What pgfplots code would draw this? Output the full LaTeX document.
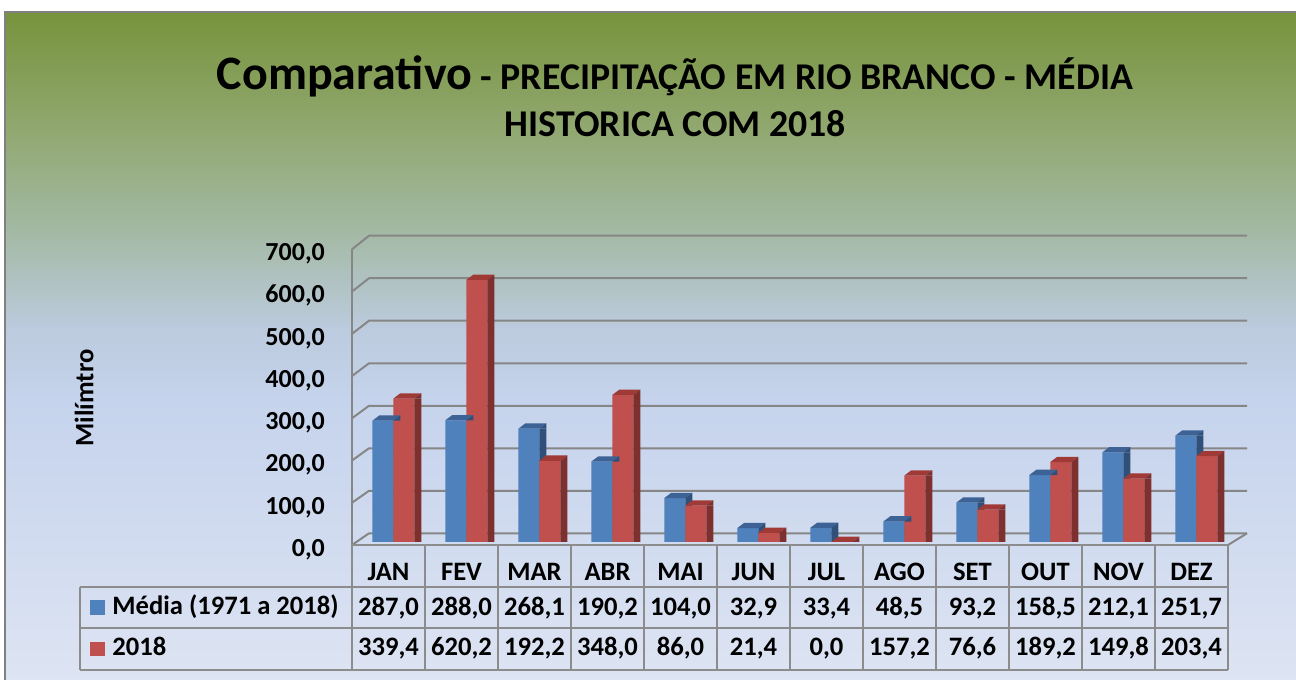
\documentclass[border=0pt]{standalone}
\usepackage{pgfplots}
\usepackage{pgfplotstable}
\pgfplotsset{compat=1.18}
\usepackage{fontspec}
\setmainfont{Carlito}

\definecolor{blueF}{RGB}{79,129,189}
\definecolor{blueT}{RGB}{60,98,150}
\definecolor{blueS}{RGB}{48,80,122}
\definecolor{redF}{RGB}{192,80,77}
\definecolor{redT}{RGB}{160,58,55}
\definecolor{redS}{RGB}{126,48,46}
\definecolor{gridg}{RGB}{134,134,134}
\definecolor{tabg}{RGB}{140,140,140}
\definecolor{bg0}{RGB}{119,147,60}
\definecolor{bg1}{RGB}{143,166,108}
\definecolor{bg2}{RGB}{163,185,163}
\definecolor{bg3}{RGB}{188,203,222}
\definecolor{bg4}{RGB}{197,211,236}
\definecolor{bg5}{RGB}{221,228,243}

\pgfdeclareverticalshading{bgshade}{100bp}{color(0bp)=(bg5); color(25bp)=(bg5); color(46bp)=(bg4); color(51.2bp)=(bg3); color(58.7bp)=(bg2); color(66.9bp)=(bg1); color(75bp)=(bg0); color(100bp)=(bg0)}

\newcommand\tabfont{\bfseries\fontsize{13.3}{16}\selectfont}
\newcommand\tickfont{\bfseries\fontsize{13}{15.6}\selectfont}

\pgfplotstableread{
x mes media ano
0 JAN 287.0 339.4
1 FEV 288.0 620.2
2 MAR 268.1 192.2
3 ABR 190.2 348.0
4 MAI 104.0 86.0
5 JUN 32.9 21.4
6 JUL 33.4 0.0
7 AGO 48.5 157.2
8 SET 93.2 76.6
9 OUT 158.5 189.2
10 NOV 212.1 149.8
11 DEZ 251.7 203.4
}\dados

% top face of a bar (plus the upper corner of its side face)
\pgfdeclareplotmark{capblue}{%
  \pgfsetfillcolor{blueT}%
  \pgfpathmoveto{\pgfqpoint{-8.1pt}{0pt}}%
  \pgfpathlineto{\pgfqpoint{2.4pt}{0pt}}%
  \pgfpathlineto{\pgfqpoint{5.9pt}{2.65pt}}%
  \pgfpathlineto{\pgfqpoint{-4.6pt}{2.65pt}}%
  \pgfpathclose
  \pgfusepath{fill}%
  \pgfsetfillcolor{blueS}%
  \pgfpathmoveto{\pgfqpoint{2.4pt}{0pt}}%
  \pgfpathlineto{\pgfqpoint{5.9pt}{2.65pt}}%
  \pgfpathlineto{\pgfqpoint{5.9pt}{0pt}}%
  \pgfpathclose
  \pgfusepath{fill}%
}
\pgfdeclareplotmark{capred}{%
  \pgfsetfillcolor{redT}%
  \pgfpathmoveto{\pgfqpoint{2.4pt}{0pt}}%
  \pgfpathlineto{\pgfqpoint{12.9pt}{0pt}}%
  \pgfpathlineto{\pgfqpoint{16.4pt}{2.65pt}}%
  \pgfpathlineto{\pgfqpoint{5.9pt}{2.65pt}}%
  \pgfpathclose
  \pgfusepath{fill}%
  \pgfsetfillcolor{redS}%
  \pgfpathmoveto{\pgfqpoint{12.9pt}{0pt}}%
  \pgfpathlineto{\pgfqpoint{16.4pt}{2.65pt}}%
  \pgfpathlineto{\pgfqpoint{16.4pt}{0pt}}%
  \pgfpathclose
  \pgfusepath{fill}%
}

\begin{document}
\begin{tikzpicture}
\path[use as bounding box] (0,0) rectangle (648pt,340pt);
\begin{scope}[x=0.5pt,y=-0.5pt,shift={(0pt,340pt)}]
  \fill[white] (0,0) rectangle (1296,680);
  \shade[shading=bgshade] (4.5,12) rectangle (1296,680);
  \draw[gray, line width=1pt] (4.5,680) -- (4.5,12) -- (1296,12);
  % walls and grid
  \foreach \v in {0,100,...,700}{
    \draw[gridg, line width=1pt] (352,{545-0.4224*\v}) -- (369,{533.3-0.4251*\v}) -- (1247,{533.3-0.4251*\v});
  }
  \draw[gridg, line width=1pt] (352,545) -- (352,249.3);
  \draw[gridg, line width=1pt] (1228,545) -- (1247,533.3);
  % data table grid
  \draw[tabg, line width=1pt] (352,545) -- (1228,545);
  \foreach \k in {0,...,12} \draw[tabg, line width=1pt] ({352+73*\k},545) -- ({352+73*\k},670);
  \foreach \yy in {587,628,670} \draw[tabg, line width=1pt] (80,\yy) -- (1228,\yy);
  \draw[tabg, line width=1pt] (80,587) -- (80,670);
  % legend keys
  \fill[blueF] (90,600.5) rectangle (105,615);
  \fill[redF] (90,642) rectangle (105,656.5);
  \node[anchor=base west, inner sep=0pt, font=\tabfont] at (112,615) {Média (1971 a 2018)};
  \node[anchor=base west, inner sep=0pt, font=\tabfont] at (112,656) {2018};
  % title
  \node[anchor=base, inner sep=0pt, font=\bfseries] at (675,90) {{\fontsize{24}{29}\selectfont Comparativo}{\fontsize{18.9}{23}\selectfont{} - PRECIPITAÇÃO EM RIO BRANCO - MÉDIA}};
  \node[anchor=base, inner sep=0pt, font=\bfseries\fontsize{18.9}{23}\selectfont] at (675.5,137) {HISTORICA COM 2018};
\end{scope}

\begin{axis}[
  at={(176pt,66.8875pt)}, anchor=south west,
  x=36.5pt, y=0.21125pt,
  xmin=-0.5, xmax=11.5, ymin=-10, ymax=740,
  clip=false,
  axis line style={draw=none},
  major tick length=0pt,
  xtick={0,...,11},
  xticklabels from table={\dados}{mes},
  ytick={0,100,...,700},
  xticklabel style={anchor=base, inner sep=0pt, yshift=-16.9pt, font=\tabfont},
  yticklabel style={anchor=base east, inner sep=0pt, xshift=-13.35pt, yshift=-7.2pt, font=\tickfont},
  ylabel={Milímtro},
  every axis y label/.style={at={(axis description cs:-0.3059,0.4678)}, rotate=90, anchor=center, font=\tabfont},
  /pgf/number format/fixed, /pgf/number format/fixed zerofill,
  /pgf/number format/precision=1, /pgf/number format/use comma,
  /pgf/number format/1000 sep={}, /pgf/number format/assume math mode=true,
]
% blue: front face, side face, top
\addplot[ybar, bar width=10.5pt, bar shift=-2.85pt, fill=blueF, draw=none] table[x=x,y=media]{\dados};
\addplot[ybar, bar width=3.5pt, bar shift=4.15pt, fill=blueS, draw=none] table[x=x,y=media]{\dados};
\addplot[only marks, mark=capblue] table[x=x,y=media]{\dados};
% red: front face, side face, top
\addplot[ybar, bar width=10.5pt, bar shift=7.65pt, fill=redF, draw=none] table[x=x,y=ano]{\dados};
\addplot[ybar, bar width=3.5pt, bar shift=14.65pt, fill=redS, draw=none] table[x=x,y=ano]{\dados};
\addplot[only marks, mark=capred] table[x=x,y=ano]{\dados};
% data table values
\addplot[only marks, mark=none, point meta=explicit, nodes near coords,
  every node near coord/.append style={anchor=base, inner sep=0pt, font=\tabfont}]
  table[x=x, y expr=-172.8, meta=media]{\dados};
\addplot[only marks, mark=none, point meta=explicit, nodes near coords,
  every node near coord/.append style={anchor=base, inner sep=0pt, font=\tabfont}]
  table[x=x, y expr=-269.8, meta=ano]{\dados};
\end{axis}
\end{tikzpicture}
\end{document}
